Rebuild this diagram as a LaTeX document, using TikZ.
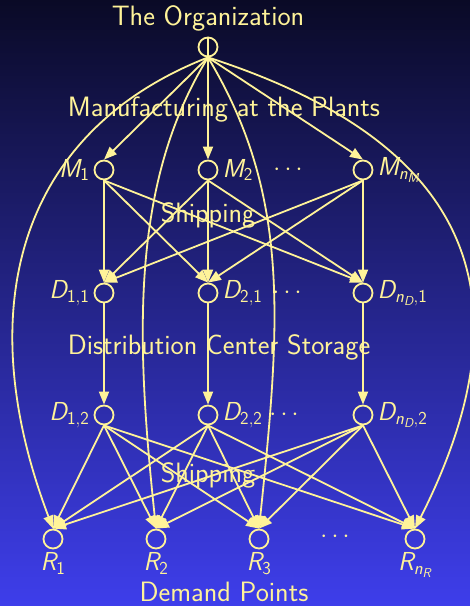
\documentclass[tikz,border=0pt]{standalone}
\usepackage{tikz}
\usetikzlibrary{arrows.meta,positioning}
\definecolor{slideTop}{RGB}{10,10,38}
\definecolor{slideBottom}{RGB}{62,62,235}
\definecolor{chalkYellow}{RGB}{255,243,153}
\DeclareMathAlphabet{\mathsfsl}{TU}{lmss}{m}{sl}
\DeclareMathAlphabet{\mathsfup}{TU}{lmss}{m}{n}
\newcommand{\slv}[1]{\mathsfsl{#1}}
\newcommand{\upv}[1]{\mathsfup{#1}}

\begin{document}
\begin{tikzpicture}[x=1pt,y=1pt,
    site/.style={circle, draw=chalkYellow, line width=1.8pt, minimum size=19pt, inner sep=0pt},
    flow/.style={draw=chalkYellow, line width=1.8pt, -{Triangle[length=13pt,width=10pt]}},
    caption/.style={text=chalkYellow, font=\sffamily\fontsize{28}{32}\selectfont, anchor=base, inner sep=0pt},
    tag/.style={text=chalkYellow, font=\fontsize{26}{30}\selectfont, inner sep=1pt}]
    % slide background
    \shade[top color=slideTop, bottom color=slideBottom] (0,0) rectangle (470,606);
    \useasboundingbox (0,0) rectangle (470,606);

    % organization and plants
    \node[site] (org) at (208,559) {};
    \node[site] (m1) at (104,436) {};
    \node[site] (m2) at (208,436) {};
    \node[site] (mn) at (363,436) {};

    % distribution centers, two stages
    \node[site] (d11) at (104,313) {};
    \node[site] (d21) at (208,313) {};
    \node[site] (dn1) at (363,313) {};
    \node[site] (d12) at (104,191) {};
    \node[site] (d22) at (208,191) {};
    \node[site] (dn2) at (363,191) {};

    % demand points
    \node[site] (r1) at (53,67) {};
    \node[site] (r2) at (156,67) {};
    \node[site] (r3) at (259,67) {};
    \node[site] (rn) at (415,67) {};

    % node labels
    \node[tag, left=3pt of m1] (m1lab) {$\slv{M}_{\upv{1}}$};
    \node[tag, right=3pt of m2] (m2lab) {$\slv{M}_{\upv{2}}$};
    \node[tag, right=3pt of mn] (mnlab) {$\slv{M}_{\slv{n}_{\slv{M}}}$};
    \node[tag, left=3pt of d11] (d11lab) {$\slv{D}_{\upv{1,1}}$};
    \node[tag, right=3pt of d21] (d21lab) {$\slv{D}_{\upv{2,1}}$};
    \node[tag, right=3pt of dn1] (dn1lab) {$\slv{D}_{\slv{n}_{\slv{D}},\upv{1}}$};
    \node[tag, left=3pt of d12] (d12lab) {$\slv{D}_{\upv{1,2}}$};
    \node[tag, right=3pt of d22] (d22lab) {$\slv{D}_{\upv{2,2}}$};
    \node[tag, right=3pt of dn2] (dn2lab) {$\slv{D}_{\slv{n}_{\slv{D}},\upv{2}}$};
    \node[tag, below=2pt of r1] (r1lab) {$\slv{R}_{\upv{1}}$};
    \node[tag, below=2pt of r2] (r2lab) {$\slv{R}_{\upv{2}}$};
    \node[tag, below=2pt of r3] (r3lab) {$\slv{R}_{\upv{3}}$};
    \node[tag, below=2pt of rn] (rnlab) {$\slv{R}_{\slv{n}_{\slv{R}}}$};

    % dots
    \node[tag] (mdots) at (288,436) {$\cdots$};
    \node[tag] (d1dots) at (287,313) {$\cdots$};
    \node[tag] (d2dots) at (284,191) {$\cdots$};
    \node[tag] (rdots) at (335,69) {$\cdots$};

    % stage captions
    \node[caption] (title) at (208,580) {The Organization};
    \node[caption] (manu) at (224,489) {Manufacturing at the Plants};
    \node[caption] (shipup) at (208,383) {Shipping};
    \node[caption] (store) at (219,251) {Distribution Center Storage};
    \node[caption] (shiplow) at (208,123) {Shipping};
    \node[caption] (demand) at (224,5) {Demand Points};

    % organization to plants
    \draw[flow] (org.south) -- (m1.north);
    \draw[flow] (org.north) -- (m2.north);
    \draw[flow] (org.south) -- (mn.north);

    % organization straight to demand points
    \draw[flow] (org.south) .. controls (22,476) and (-32,302) .. (r1.north);
    \draw[flow] (org.south) .. controls (130,422) and (136,267) .. (r2.north);
    \draw[flow] (org.south) .. controls (290,412) and (281,287) .. (r3.north);
    \draw[flow] (org.south) .. controls (455,469) and (540,325) .. (rn.north);

    % shipping, plants to centers
    \draw[flow] (m1.south) -- (d11.north);
    \draw[flow] (m1.south) -- (d21.north);
    \draw[flow] (m1.south) -- (dn1.north);
    \draw[flow] (m2.south) -- (d11.north);
    \draw[flow] (m2.south) -- (d21.north);
    \draw[flow] (m2.south) -- (dn1.north);
    \draw[flow] (mn.south) -- (d11.north);
    \draw[flow] (mn.south) -- (d21.north);
    \draw[flow] (mn.south) -- (dn1.north);

    % storage at the centers
    \draw[flow] (d11.south) -- (d12.north);
    \draw[flow] (d21.south) -- (d22.north);
    \draw[flow] (dn1.south) -- (dn2.north);

    % shipping, centers to demand points
    \draw[flow] (d12.south) -- (r1.north);
    \draw[flow] (d12.south) -- (r2.north);
    \draw[flow] (d12.south) -- (r3.north);
    \draw[flow] (d12.south) -- (rn.north);
    \draw[flow] (d22.south) -- (r1.north);
    \draw[flow] (d22.south) -- (r2.north);
    \draw[flow] (d22.south) -- (r3.north);
    \draw[flow] (d22.south) -- (rn.north);
    \draw[flow] (dn2.south) -- (r1.north);
    \draw[flow] (dn2.south) -- (r2.north);
    \draw[flow] (dn2.south) -- (r3.north);
    \draw[flow] (dn2.south) -- (rn.north);
\end{tikzpicture}
\end{document}
